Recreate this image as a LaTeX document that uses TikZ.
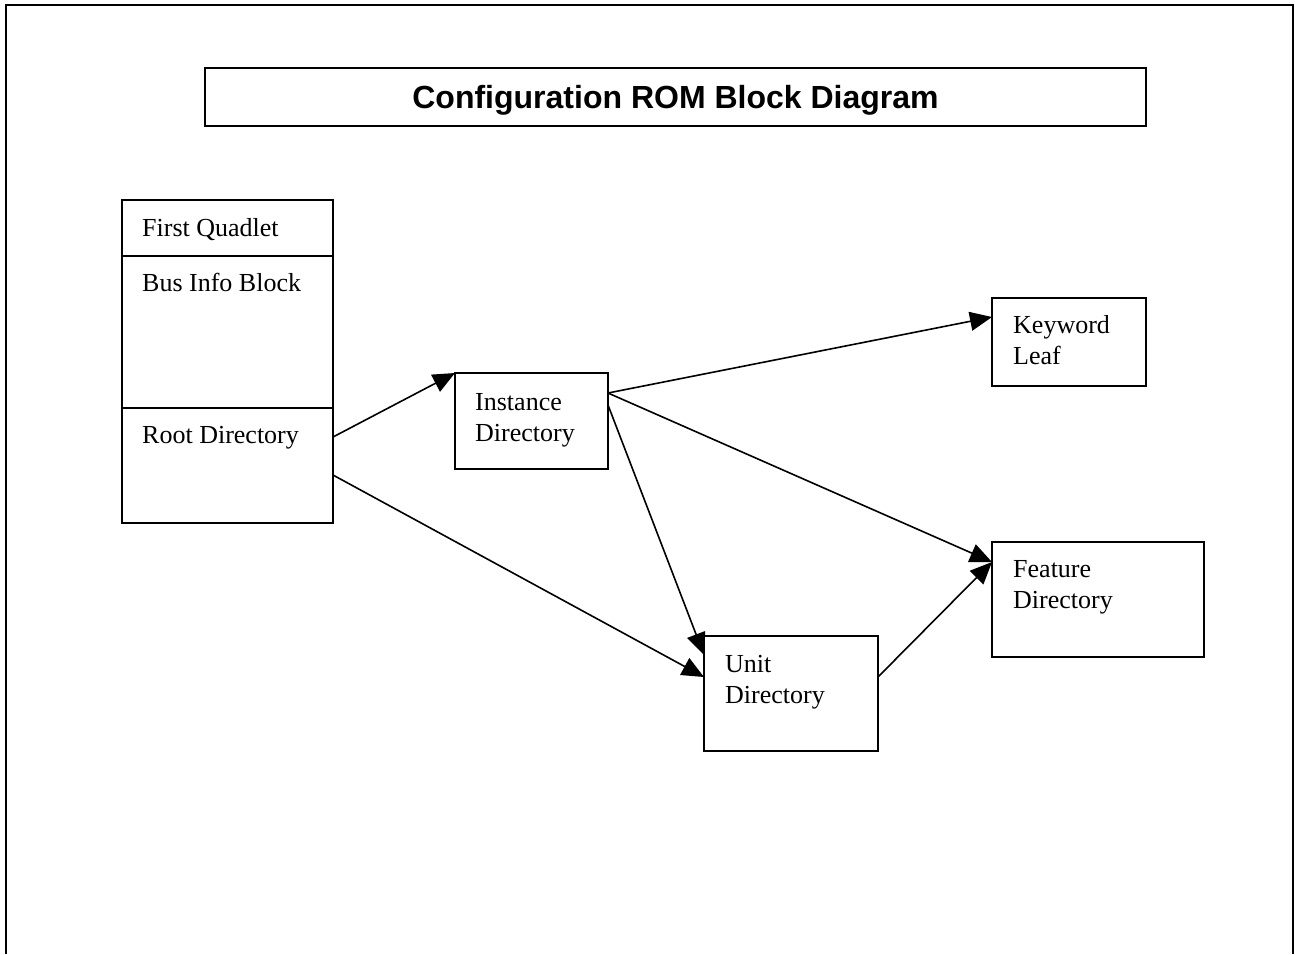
\documentclass[tikz,border=0pt]{standalone}
\usepackage{fontspec}
\setmainfont{Liberation Serif}
\newfontfamily\titlefont{Liberation Sans}
\usetikzlibrary{arrows.meta}
\usetikzlibrary{calc}

\begin{document}
\begin{tikzpicture}[x=1pt, y=-1pt,
		box/.style={draw, line width=1.6pt, anchor=north west, inner sep=0pt, outer sep=0pt},
		txt/.style={anchor=base west, inner sep=0pt, align=left, font=\fontsize{26}{31}\selectfont},
		link/.style={line width=1.6pt, -{Triangle[length=22pt, width=19pt]}}]
						\useasboundingbox (0,0) rectangle (1295,954);

						% page frame, open at the bottom
						\draw[line width=2.4pt] (6,954) -- (6,5) -- (1293,5) -- (1293,954);

						\coordinate (t) at (205,68);
						\node[box, minimum width=941, minimum height=58, text depth=0pt,
							font=\titlefont\bfseries\fontsize{32}{38}\selectfont] (title) at (t) {Configuration ROM Block Diagram};

						% the ROM itself
						\coordinate (q) at (122,200);
						\node[box, minimum width=211, minimum height=56] (fq) at (q) {};
						\node[box, minimum width=211, minimum height=152] (bib) at (fq.south west) {};
						\node[box, minimum width=211, minimum height=115] (rd) at (bib.south west) {};
						\node[txt] (fqtext) at ($(fq.north west)+(20,36)$) {First Quadlet};
						\node[txt] (bibtext) at ($(bib.north west)+(20,35)$) {Bus Info Block};
						\node[txt] (rdtext) at ($(rd.north west)+(20,35)$) {Root Directory};

						% two-line labels sit on the baseline of their last line
						\coordinate (i) at (455,373);
						\node[box, minimum width=153, minimum height=96] (inst) at (i) {};
						\node[txt] (insttext) at ($(inst.north west)+(20,68)$) {Instance\\Directory};

						\coordinate (k) at (992,298);
						\node[box, minimum width=154, minimum height=88] (kw) at (k) {};
						\node[txt] (kwtext) at ($(kw.north west)+(21,66)$) {Keyword\\Leaf};

						\coordinate (f) at (992,542);
						\node[box, minimum width=212, minimum height=115] (feat) at (f) {};
						\node[txt] (feattext) at ($(feat.north west)+(21,66)$) {Feature\\Directory};

						\coordinate (u) at (704,636);
						\node[box, minimum width=174, minimum height=115] (unit) at (u) {};
						\node[txt] (unittext) at ($(unit.north west)+(21,67)$) {Unit\\Directory};

						\draw[link] ($(rd.north east)+(0,29)$) -- (inst.north west);
						\draw[link] ($(rd.north east)+(0,67)$) -- ($(unit.north west)+(0,41)$);
						\draw[link] ($(inst.north east)+(0,20)$) -- ($(kw.north west)+(0,19)$);
						\draw[link] ($(inst.north east)+(0,20)$) -- ($(feat.north west)+(0,20)$);
						\draw[link] ($(inst.north east)+(0,32)$) -- ($(unit.north west)+(0,19)$);
						\draw[link] ($(unit.north east)+(0,41)$) -- ($(feat.north west)+(0,20)$);
					\end{tikzpicture}
\end{document}
